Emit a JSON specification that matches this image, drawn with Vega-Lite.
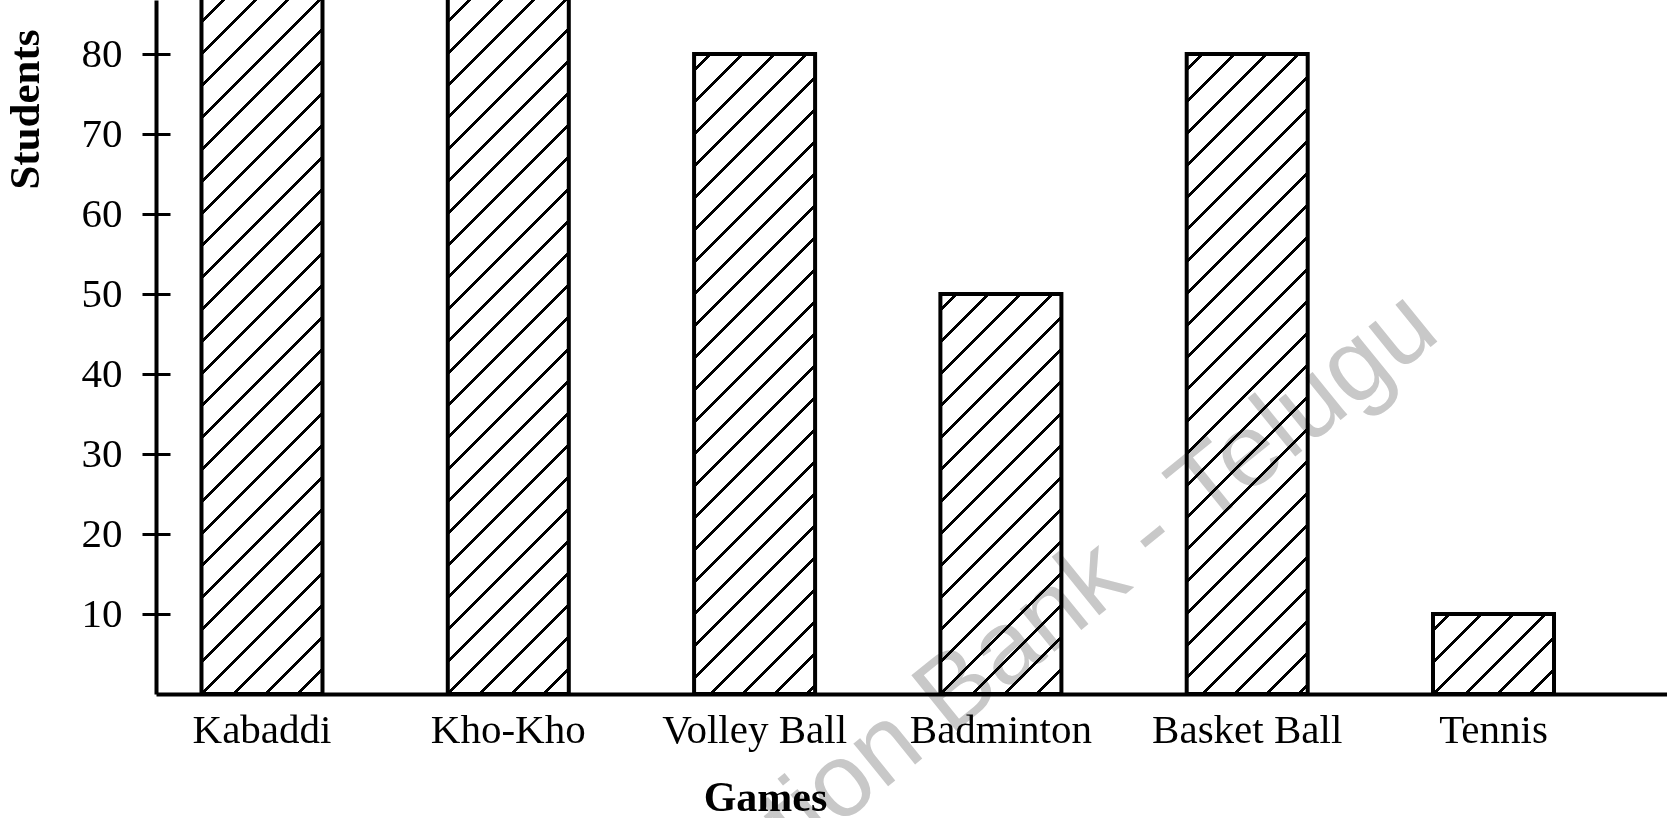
{
  "$schema": "https://vega.github.io/schema/vega-lite/v6.json",
  "autosize": "none",
  "width": 1511,
  "height": 694,
  "padding": {"left": 156, "top": 0, "right": 0, "bottom": 124},
  "background": "white",
  "config": {"view": {"stroke": null}},
  "data": {"values": [
    {"Game": "Kabaddi", "Students": 90},
    {"Game": "Kho-Kho", "Students": 90},
    {"Game": "Volley Ball", "Students": 80},
    {"Game": "Badminton", "Students": 50},
    {"Game": "Basket Ball", "Students": 80},
    {"Game": "Tennis", "Students": 10}
  ]},
  "layer": [
    {
      "mark": {"type": "bar", "clip": true, "stroke": "black", "strokeWidth": 4},
      "encoding": {
        "x": {
          "field": "Game", "type": "nominal", "sort": null,
          "scale": {"paddingInner": 0.5087, "paddingOuter": 0.3217, "align": 0.287},
          "axis": {
            "domainColor": "black", "domainWidth": 4, "ticks": false, "tickSize": 0,
            "labelFont": "Liberation Serif", "labelFontSize": 41, "labelColor": "black",
            "labelAngle": 0, "labelBaseline": "alphabetic", "labelPadding": 48,
            "labelOverlap": false, "labelFlush": false, "labelLimit": 0,
            "title": "Games", "titleFont": "Liberation Serif", "titleFontSize": 42,
            "titleFontWeight": "bold", "titleColor": "black",
            "titleX": 609, "titleY": 116, "titleBaseline": "alphabetic", "titleAlign": "center"
          }
        },
        "y": {
          "field": "Students", "type": "quantitative",
          "scale": {"domain": [0, 86.75], "nice": false, "zero": true},
          "axis": {
            "values": [10, 20, 30, 40, 50, 60, 70, 80],
            "domainColor": "black", "domainWidth": 4,
            "tickColor": "black", "tickWidth": 3, "tickSize": 14,
            "grid": true, "gridColor": "black", "gridWidth": 3, "gridDash": [14, 3000],
            "labelFont": "Liberation Serif", "labelFontSize": 41, "labelColor": "black",
            "labelPadding": 20,
            "title": "Students", "titleFont": "Liberation Serif", "titleFontSize": 43,
            "titleFontWeight": "bold", "titleColor": "black",
            "titleX": -131, "titleY": 109, "titleAngle": -90, "titleAlign": "center", "titleBaseline": "middle"
          }
        },
        "fill": {
          "condition": [
            {"test": "datum.Students == 80", "value": {"gradient": "linear", "x1": 0, "y1": 0, "x2": 0.28522, "y2": 1.50858, "stops": [{"offset":0.014,"color":"#fff"},{"offset":0.014,"color":"#000"},{"offset":0.018,"color":"#000"},{"offset":0.018,"color":"#fff"},{"offset":0.046,"color":"#fff"},{"offset":0.046,"color":"#000"},{"offset":0.05,"color":"#000"},{"offset":0.05,"color":"#fff"},{"offset":0.078,"color":"#fff"},{"offset":0.078,"color":"#000"},{"offset":0.082,"color":"#000"},{"offset":0.082,"color":"#fff"},{"offset":0.11,"color":"#fff"},{"offset":0.11,"color":"#000"},{"offset":0.114,"color":"#000"},{"offset":0.114,"color":"#fff"},{"offset":0.142,"color":"#fff"},{"offset":0.142,"color":"#000"},{"offset":0.146,"color":"#000"},{"offset":0.146,"color":"#fff"},{"offset":0.174,"color":"#fff"},{"offset":0.174,"color":"#000"},{"offset":0.178,"color":"#000"},{"offset":0.178,"color":"#fff"},{"offset":0.206,"color":"#fff"},{"offset":0.206,"color":"#000"},{"offset":0.21,"color":"#000"},{"offset":0.21,"color":"#fff"},{"offset":0.238,"color":"#fff"},{"offset":0.238,"color":"#000"},{"offset":0.242,"color":"#000"},{"offset":0.242,"color":"#fff"},{"offset":0.27,"color":"#fff"},{"offset":0.27,"color":"#000"},{"offset":0.274,"color":"#000"},{"offset":0.274,"color":"#fff"},{"offset":0.302,"color":"#fff"},{"offset":0.302,"color":"#000"},{"offset":0.306,"color":"#000"},{"offset":0.306,"color":"#fff"},{"offset":0.334,"color":"#fff"},{"offset":0.334,"color":"#000"},{"offset":0.338,"color":"#000"},{"offset":0.338,"color":"#fff"},{"offset":0.366,"color":"#fff"},{"offset":0.366,"color":"#000"},{"offset":0.37,"color":"#000"},{"offset":0.37,"color":"#fff"},{"offset":0.398,"color":"#fff"},{"offset":0.398,"color":"#000"},{"offset":0.402,"color":"#000"},{"offset":0.402,"color":"#fff"},{"offset":0.43,"color":"#fff"},{"offset":0.43,"color":"#000"},{"offset":0.434,"color":"#000"},{"offset":0.434,"color":"#fff"},{"offset":0.462,"color":"#fff"},{"offset":0.462,"color":"#000"},{"offset":0.466,"color":"#000"},{"offset":0.466,"color":"#fff"},{"offset":0.494,"color":"#fff"},{"offset":0.494,"color":"#000"},{"offset":0.498,"color":"#000"},{"offset":0.498,"color":"#fff"},{"offset":0.526,"color":"#fff"},{"offset":0.526,"color":"#000"},{"offset":0.53,"color":"#000"},{"offset":0.53,"color":"#fff"},{"offset":0.558,"color":"#fff"},{"offset":0.558,"color":"#000"},{"offset":0.562,"color":"#000"},{"offset":0.562,"color":"#fff"},{"offset":0.59,"color":"#fff"},{"offset":0.59,"color":"#000"},{"offset":0.594,"color":"#000"},{"offset":0.594,"color":"#fff"},{"offset":0.622,"color":"#fff"},{"offset":0.622,"color":"#000"},{"offset":0.626,"color":"#000"},{"offset":0.626,"color":"#fff"},{"offset":0.654,"color":"#fff"},{"offset":0.654,"color":"#000"},{"offset":0.658,"color":"#000"},{"offset":0.658,"color":"#fff"},{"offset":0.686,"color":"#fff"},{"offset":0.686,"color":"#000"},{"offset":0.69,"color":"#000"},{"offset":0.69,"color":"#fff"},{"offset":0.718,"color":"#fff"},{"offset":0.718,"color":"#000"},{"offset":0.722,"color":"#000"},{"offset":0.722,"color":"#fff"},{"offset":0.75,"color":"#fff"},{"offset":0.75,"color":"#000"},{"offset":0.754,"color":"#000"},{"offset":0.754,"color":"#fff"},{"offset":0.782,"color":"#fff"},{"offset":0.782,"color":"#000"},{"offset":0.786,"color":"#000"},{"offset":0.786,"color":"#fff"},{"offset":0.814,"color":"#fff"},{"offset":0.814,"color":"#000"},{"offset":0.818,"color":"#000"},{"offset":0.818,"color":"#fff"}]}},
            {"test": "datum.Students == 50", "value": {"gradient": "linear", "x1": 0, "y1": 0, "x2": 0.69285, "y2": 2.29041, "stops": [{"offset":0.014,"color":"#fff"},{"offset":0.014,"color":"#000"},{"offset":0.018,"color":"#000"},{"offset":0.018,"color":"#fff"},{"offset":0.046,"color":"#fff"},{"offset":0.046,"color":"#000"},{"offset":0.05,"color":"#000"},{"offset":0.05,"color":"#fff"},{"offset":0.078,"color":"#fff"},{"offset":0.078,"color":"#000"},{"offset":0.082,"color":"#000"},{"offset":0.082,"color":"#fff"},{"offset":0.11,"color":"#fff"},{"offset":0.11,"color":"#000"},{"offset":0.114,"color":"#000"},{"offset":0.114,"color":"#fff"},{"offset":0.142,"color":"#fff"},{"offset":0.142,"color":"#000"},{"offset":0.146,"color":"#000"},{"offset":0.146,"color":"#fff"},{"offset":0.174,"color":"#fff"},{"offset":0.174,"color":"#000"},{"offset":0.178,"color":"#000"},{"offset":0.178,"color":"#fff"},{"offset":0.206,"color":"#fff"},{"offset":0.206,"color":"#000"},{"offset":0.21,"color":"#000"},{"offset":0.21,"color":"#fff"},{"offset":0.238,"color":"#fff"},{"offset":0.238,"color":"#000"},{"offset":0.242,"color":"#000"},{"offset":0.242,"color":"#fff"},{"offset":0.27,"color":"#fff"},{"offset":0.27,"color":"#000"},{"offset":0.274,"color":"#000"},{"offset":0.274,"color":"#fff"},{"offset":0.302,"color":"#fff"},{"offset":0.302,"color":"#000"},{"offset":0.306,"color":"#000"},{"offset":0.306,"color":"#fff"},{"offset":0.334,"color":"#fff"},{"offset":0.334,"color":"#000"},{"offset":0.338,"color":"#000"},{"offset":0.338,"color":"#fff"},{"offset":0.366,"color":"#fff"},{"offset":0.366,"color":"#000"},{"offset":0.37,"color":"#000"},{"offset":0.37,"color":"#fff"},{"offset":0.398,"color":"#fff"},{"offset":0.398,"color":"#000"},{"offset":0.402,"color":"#000"},{"offset":0.402,"color":"#fff"},{"offset":0.43,"color":"#fff"},{"offset":0.43,"color":"#000"},{"offset":0.434,"color":"#000"},{"offset":0.434,"color":"#fff"},{"offset":0.462,"color":"#fff"},{"offset":0.462,"color":"#000"},{"offset":0.466,"color":"#000"},{"offset":0.466,"color":"#fff"},{"offset":0.494,"color":"#fff"},{"offset":0.494,"color":"#000"},{"offset":0.498,"color":"#000"},{"offset":0.498,"color":"#fff"},{"offset":0.526,"color":"#fff"},{"offset":0.526,"color":"#000"},{"offset":0.53,"color":"#000"},{"offset":0.53,"color":"#fff"}]}},
            {"test": "datum.Students == 10", "value": {"gradient": "linear", "x1": 0, "y1": 0, "x2": 5.75067, "y2": 3.8021, "stops": [{"offset":0.014,"color":"#fff"},{"offset":0.014,"color":"#000"},{"offset":0.018,"color":"#000"},{"offset":0.018,"color":"#fff"},{"offset":0.046,"color":"#fff"},{"offset":0.046,"color":"#000"},{"offset":0.05,"color":"#000"},{"offset":0.05,"color":"#fff"},{"offset":0.078,"color":"#fff"},{"offset":0.078,"color":"#000"},{"offset":0.082,"color":"#000"},{"offset":0.082,"color":"#fff"},{"offset":0.11,"color":"#fff"},{"offset":0.11,"color":"#000"},{"offset":0.114,"color":"#000"},{"offset":0.114,"color":"#fff"},{"offset":0.142,"color":"#fff"},{"offset":0.142,"color":"#000"},{"offset":0.146,"color":"#000"},{"offset":0.146,"color":"#fff"},{"offset":0.174,"color":"#fff"},{"offset":0.174,"color":"#000"},{"offset":0.178,"color":"#000"},{"offset":0.178,"color":"#fff"},{"offset":0.206,"color":"#fff"},{"offset":0.206,"color":"#000"},{"offset":0.21,"color":"#000"},{"offset":0.21,"color":"#fff"}]}}
          ],
          "value": {"gradient": "linear", "x1": 0, "y1": 0, "x2": 0.227, "y2": 1.35074, "stops": [{"offset":0.014,"color":"#fff"},{"offset":0.014,"color":"#000"},{"offset":0.018,"color":"#000"},{"offset":0.018,"color":"#fff"},{"offset":0.046,"color":"#fff"},{"offset":0.046,"color":"#000"},{"offset":0.05,"color":"#000"},{"offset":0.05,"color":"#fff"},{"offset":0.078,"color":"#fff"},{"offset":0.078,"color":"#000"},{"offset":0.082,"color":"#000"},{"offset":0.082,"color":"#fff"},{"offset":0.11,"color":"#fff"},{"offset":0.11,"color":"#000"},{"offset":0.114,"color":"#000"},{"offset":0.114,"color":"#fff"},{"offset":0.142,"color":"#fff"},{"offset":0.142,"color":"#000"},{"offset":0.146,"color":"#000"},{"offset":0.146,"color":"#fff"},{"offset":0.174,"color":"#fff"},{"offset":0.174,"color":"#000"},{"offset":0.178,"color":"#000"},{"offset":0.178,"color":"#fff"},{"offset":0.206,"color":"#fff"},{"offset":0.206,"color":"#000"},{"offset":0.21,"color":"#000"},{"offset":0.21,"color":"#fff"},{"offset":0.238,"color":"#fff"},{"offset":0.238,"color":"#000"},{"offset":0.242,"color":"#000"},{"offset":0.242,"color":"#fff"},{"offset":0.27,"color":"#fff"},{"offset":0.27,"color":"#000"},{"offset":0.274,"color":"#000"},{"offset":0.274,"color":"#fff"},{"offset":0.302,"color":"#fff"},{"offset":0.302,"color":"#000"},{"offset":0.306,"color":"#000"},{"offset":0.306,"color":"#fff"},{"offset":0.334,"color":"#fff"},{"offset":0.334,"color":"#000"},{"offset":0.338,"color":"#000"},{"offset":0.338,"color":"#fff"},{"offset":0.366,"color":"#fff"},{"offset":0.366,"color":"#000"},{"offset":0.37,"color":"#000"},{"offset":0.37,"color":"#fff"},{"offset":0.398,"color":"#fff"},{"offset":0.398,"color":"#000"},{"offset":0.402,"color":"#000"},{"offset":0.402,"color":"#fff"},{"offset":0.43,"color":"#fff"},{"offset":0.43,"color":"#000"},{"offset":0.434,"color":"#000"},{"offset":0.434,"color":"#fff"},{"offset":0.462,"color":"#fff"},{"offset":0.462,"color":"#000"},{"offset":0.466,"color":"#000"},{"offset":0.466,"color":"#fff"},{"offset":0.494,"color":"#fff"},{"offset":0.494,"color":"#000"},{"offset":0.498,"color":"#000"},{"offset":0.498,"color":"#fff"},{"offset":0.526,"color":"#fff"},{"offset":0.526,"color":"#000"},{"offset":0.53,"color":"#000"},{"offset":0.53,"color":"#fff"},{"offset":0.558,"color":"#fff"},{"offset":0.558,"color":"#000"},{"offset":0.562,"color":"#000"},{"offset":0.562,"color":"#fff"},{"offset":0.59,"color":"#fff"},{"offset":0.59,"color":"#000"},{"offset":0.594,"color":"#000"},{"offset":0.594,"color":"#fff"},{"offset":0.622,"color":"#fff"},{"offset":0.622,"color":"#000"},{"offset":0.626,"color":"#000"},{"offset":0.626,"color":"#fff"},{"offset":0.654,"color":"#fff"},{"offset":0.654,"color":"#000"},{"offset":0.658,"color":"#000"},{"offset":0.658,"color":"#fff"},{"offset":0.686,"color":"#fff"},{"offset":0.686,"color":"#000"},{"offset":0.69,"color":"#000"},{"offset":0.69,"color":"#fff"},{"offset":0.718,"color":"#fff"},{"offset":0.718,"color":"#000"},{"offset":0.722,"color":"#000"},{"offset":0.722,"color":"#fff"},{"offset":0.75,"color":"#fff"},{"offset":0.75,"color":"#000"},{"offset":0.754,"color":"#000"},{"offset":0.754,"color":"#fff"},{"offset":0.782,"color":"#fff"},{"offset":0.782,"color":"#000"},{"offset":0.786,"color":"#000"},{"offset":0.786,"color":"#fff"},{"offset":0.814,"color":"#fff"},{"offset":0.814,"color":"#000"},{"offset":0.818,"color":"#000"},{"offset":0.818,"color":"#fff"}]}
        }
      }
    },
    {
      "data": {"values": [{"mark": "Question Bank - Telugu"}]},
      "mark": {"type": "text", "angle": 321, "fontSize": 104, "font": "Liberation Sans", "color": "#c8c8c8", "align": "center", "baseline": "alphabetic", "blend": "multiply", "dx": -2, "dy": 38},
      "encoding": {
        "text": {"field": "mark"},
        "x": {"datum": "Badminton"},
        "y": {"datum": 6}
      }
    }
  ]
}
